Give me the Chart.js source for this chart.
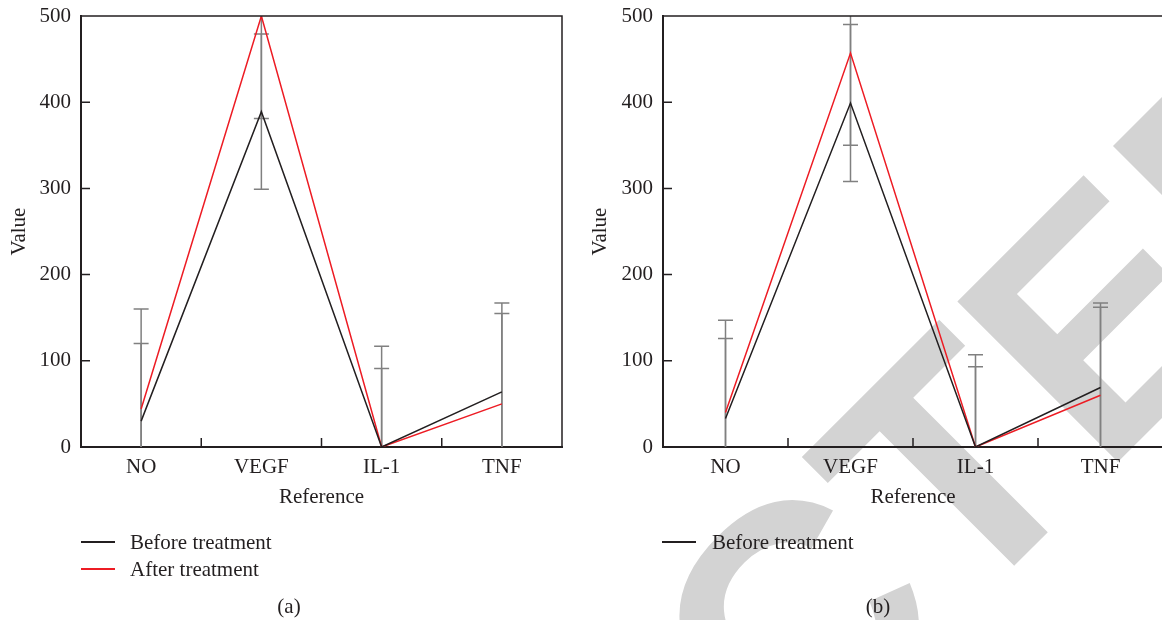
<!DOCTYPE html>
<html>
<head>
<meta charset="utf-8">
<script src="https://cdn.jsdelivr.net/npm/chart.js@4.4.1/dist/chart.umd.min.js"></script>
<style>
    html, body { margin: 0; padding: 0; background: #fff; }
    #wrap { position: relative; width: 1162px; height: 620px; overflow: hidden; background: #fff; }
    canvas { position: absolute; top: 0; }
    #stamp { left: 0; }
    #chartA { left: 0; }
    #chartB { left: 581px; }
    .txt { position: absolute; font-family: "Liberation Serif", serif; font-size: 21px; line-height: 24px; color: #231f20; white-space: nowrap; }
    .key { position: absolute; height: 1.5px; width: 34px; }
</style>
</head>
<body>
<div id="wrap">
    <canvas id="stamp" width="1162" height="620"></canvas>
    <canvas id="chartA" width="581" height="520"></canvas>
    <canvas id="chartB" width="600" height="520"></canvas>

    <div class="key" style="left:81px; top:541px; background:#231f20"></div>
    <div class="txt" style="left:130px; top:530px">Before treatment</div>
    <div class="key" style="left:81px; top:568px; background:#ed1c24"></div>
    <div class="txt" style="left:130px; top:557px">After treatment</div>
    <div class="txt" style="left:289px; top:594px; transform:translateX(-50%)">(a)</div>

    <div class="key" style="left:662px; top:541px; background:#231f20"></div>
    <div class="txt" style="left:712px; top:530px">Before treatment</div>
    <div class="txt" style="left:878px; top:594px; transform:translateX(-50%)">(b)</div>
</div>
<script>
// categories on the x axis
var categories = ['NO', 'VEGF', 'IL-1', 'TNF'];
var yTicks = [0, 100, 200, 300, 400, 500];

// panel (a)
var beforeA    = [30, 389, 0, 64];
var afterA     = [44, 500, 0, 50];
var beforeErrA = [90, 90, 91, 91];
var afterErrA  = [116, 119, 117, 117];

// panel (b)
var beforeB    = [33, 399, 0, 69];
var afterB     = [40, 457, 0, 60];
var beforeErrB = [93, 91, 93, 93];
var afterErrB  = [107, 107, 107, 107];

var ink = '#231f20';
var red = '#ed1c24';
var font = { family: '"Liberation Serif", serif', size: 21 };

// grey +/- bars, clipped to the plot box
var errorBars = {
    id: 'errorBars',
    beforeDatasetsDraw: function(chart){
        var ctx = chart.ctx, a = chart.chartArea;
        var x = chart.scales.x, y = chart.scales.y;
        ctx.save();
        ctx.beginPath();
        ctx.rect(a.left, a.top, a.right - a.left, a.bottom - a.top);
        ctx.clip();
        ctx.strokeStyle = '#808080';
        ctx.lineWidth = 1.5;
        chart.data.datasets.forEach(function(ds){
            ds.data.forEach(function(v, i){
                var px = x.getPixelForValue(i);
                var lo = y.getPixelForValue(v - ds.errors[i]);
                var hi = y.getPixelForValue(v + ds.errors[i]);
                ctx.beginPath();
                ctx.moveTo(px, lo); ctx.lineTo(px, hi);
                ctx.moveTo(px - 7.5, lo); ctx.lineTo(px + 7.5, lo);
                ctx.moveTo(px - 7.5, hi); ctx.lineTo(px + 7.5, hi);
                ctx.stroke();
            });
        });
        ctx.restore();
    }
};

// box on top/right and inward tick marks
var frameTicks = {
    id: 'frameTicks',
    afterDraw: function(chart){
        var ctx = chart.ctx, a = chart.chartArea;
        var x = chart.scales.x, y = chart.scales.y;
        ctx.save();
        ctx.strokeStyle = ink;
        ctx.lineWidth = 1.5;
        ctx.beginPath();
        ctx.moveTo(a.left, a.top); ctx.lineTo(a.right, a.top); ctx.lineTo(a.right, a.bottom);
        y.ticks.forEach(function(t){
            var py = y.getPixelForValue(t.value);
            ctx.moveTo(a.left, py); ctx.lineTo(a.left + 9, py);
        });
        for (var i = 1; i < categories.length; i++) {
            var px = (x.getPixelForValue(i - 1) + x.getPixelForValue(i)) / 2;
            ctx.moveTo(px, a.bottom); ctx.lineTo(px, a.bottom - 9);
        }
        ctx.stroke();
        ctx.restore();
    }
};

function makeChart(id, before, after, beforeErr, afterErr, yWidth, padRight){
    var ctx = document.getElementById(id).getContext('2d');
    return new Chart(ctx, {
        type: 'line',
        data: {
            labels: categories,
            datasets: [
                { label: 'Before treatment', data: before, errors: beforeErr, borderColor: ink, borderWidth: 1.5, pointRadius: 0, tension: 0, fill: false },
                { label: 'After treatment', data: after, errors: afterErr, borderColor: red, borderWidth: 1.5, pointRadius: 0, tension: 0, fill: false }
            ]
        },
        options: {
            responsive: false,
            animation: false,
            devicePixelRatio: 1,
            layout: { padding: { left: 0, top: 16, right: padRight, bottom: 0 } },
            plugins: { legend: { display: false }, tooltip: { enabled: false } },
            scales: {
                x: {
                    offset: true,
                    grid: { drawOnChartArea: false, drawTicks: false },
                    border: { color: ink, width: 2 },
                    ticks: { font: font, color: ink, padding: 8 },
                    title: { display: true, text: 'Reference', font: font, color: ink, padding: { top: 0, bottom: 10 } },
                    afterFit: function(s){ s.height = 73; s.paddingLeft = 0; s.paddingRight = 0; }
                },
                y: {
                    min: 0, max: 500,
                    afterBuildTicks: function(s){ s.ticks = yTicks.map(function(v){ return { value: v }; }); },
                    grid: { drawOnChartArea: false, drawTicks: false },
                    border: { color: ink, width: 2 },
                    ticks: { font: font, color: ink, padding: 10 },
                    title: { display: true, text: 'Value', font: font, color: ink, padding: { top: 7, bottom: 0 } },
                    afterFit: function(s){ s.width = yWidth; s.paddingTop = 0; s.paddingBottom = 0; }
                }
            }
        },
        plugins: [errorBars, frameTicks]
    });
}

// big diagonal stamp behind the charts
function drawStamp(){
    var c = document.getElementById('stamp').getContext('2d');
    var k = Math.SQRT1_2;
    c.font = 'bold 330px "Liberation Sans", sans-serif';
    var aT = c.measureText('RETRAC').width + c.measureText('T').width / 2;
    c.translate(1031 - k * aT, 549 + k * aT);
    c.rotate(-Math.PI / 4);
    c.fillStyle = '#d3d3d3';
    c.fillText('RETRACTED', 0, 0);
}

drawStamp();
makeChart('chartA', beforeA, afterA, beforeErrA, afterErrA, 81, 19);
makeChart('chartB', beforeB, afterB, beforeErrB, afterErrB, 82, 18);
</script>
</body>
</html>
